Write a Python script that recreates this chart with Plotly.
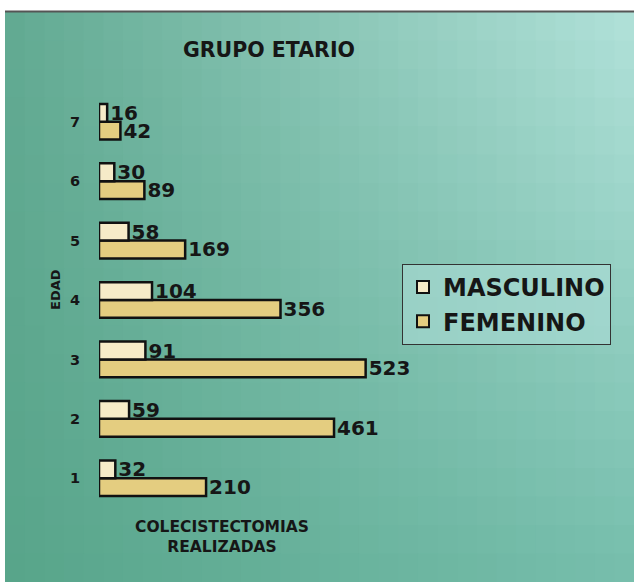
import plotly.graph_objects as go

categorias = ["1", "2", "3", "4", "5", "6", "7"]
masculino = [32, 59, 91, 104, 58, 30, 16]
femenino = [210, 461, 523, 356, 169, 89, 42]

W, H = 634, 582
L, R, T, B = 99, 224, 92, 74
FONT = "DejaVu Sans"
INK = "#161616"

pw = W - L - R
ph = H - T - B
def px(x):
    return (x - L) / pw
def py(y):
    return 1 - (y - T) / ph

fig = go.Figure()
fig.add_trace(go.Bar(
    y=categorias, x=femenino, orientation="h", name="FEMENINO",
    marker=dict(color="#e4cd80", line=dict(color="#111", width=2.5)),
    text=femenino, textposition="outside", cliponaxis=False, constraintext="none",
    textfont=dict(family=FONT, size=20, color=INK, weight="bold"),
    legendrank=2,
))
fig.add_trace(go.Bar(
    y=categorias, x=masculino, orientation="h", name="MASCULINO",
    marker=dict(color="#f6ebc8", line=dict(color="#111", width=2.5)),
    text=masculino, textposition="outside", cliponaxis=False, constraintext="none",
    textfont=dict(family=FONT, size=20, color=INK, weight="bold"),
    legendrank=1,
))

# background gradient (styling only): bilinear between four corner colours
TL = (98, 170, 146)
TR = (178, 226, 218)
BL = (88, 165, 138)
BR = (118, 190, 172)
X0, Y0 = 5, 12
nx, ny = 32, 20
shapes = []
for j in range(ny):
    for i in range(nx):
        u = (i + 0.5) / nx
        v = (j + 0.5) / ny
        col = tuple(int(TL[k] * (1 - u) * (1 - v) + TR[k] * u * (1 - v)
                        + BL[k] * (1 - u) * v + BR[k] * u * v) for k in range(3))
        xa = X0 + i * (W - X0) / nx
        xb = X0 + (i + 1) * (W - X0) / nx + 1
        ya = Y0 + j * (H - Y0) / ny
        yb = Y0 + (j + 1) * (H - Y0) / ny + 1
        shapes.append(dict(
            type="rect", xref="paper", yref="paper", layer="below",
            x0=px(xa), x1=px(xb), y0=py(yb), y1=py(ya),
            fillcolor="rgb(%d,%d,%d)" % col, line=dict(width=0),
        ))
shapes.append(dict(type="line", xref="paper", yref="paper", layer="below",
                   x0=px(X0), x1=px(W), y0=py(11.5), y1=py(11.5),
                   line=dict(color="#555", width=2)))

annotations = [
    dict(text="<b>GRUPO ETARIO</b>", x=px(269), y=py(50), xref="paper", yref="paper",
         xanchor="center", yanchor="middle",
         showarrow=False, font=dict(family=FONT, size=20.5, color=INK)),
    dict(text="<b>COLECISTECTOMIAS<br>REALIZADAS</b>", x=px(222), y=py(537), xref="paper", yref="paper",
         xanchor="center", yanchor="middle",
         showarrow=False, font=dict(family=FONT, size=15.5, color=INK),
         align="center"),
    dict(text="<b>EDAD</b>", x=px(55), y=py(290), xref="paper", yref="paper",
         xanchor="center", yanchor="middle",
         showarrow=False, textangle=-90, font=dict(family=FONT, size=13, color=INK)),
]

fig.update_layout(
    width=W, height=H,
    margin=dict(l=L, r=R, t=T, b=B),
    paper_bgcolor="white",
    plot_bgcolor="rgba(0,0,0,0)",
    barmode="group",
    bargap=0.4,
    bargroupgap=0.0,
    showlegend=True,
    legend=dict(
        x=px(402), y=py(264), xanchor="left", yanchor="top",
        xref="paper", yref="paper",
        bgcolor="rgba(175,222,216,0.55)", bordercolor="#333", borderwidth=1,
        font=dict(family=FONT, size=24, color=INK, weight="bold"),
        itemsizing="constant", tracegroupgap=0, itemwidth=30,
    ),
    xaxis=dict(range=[0, 610], visible=False),
    yaxis=dict(
        type="category", range=[-0.5, 6.5], showgrid=False, zeroline=False,
        showline=False, ticks="", ticklabelstandoff=18,
        tickfont=dict(family=FONT, size=14.5, color=INK, weight="bold"),
    ),
    shapes=shapes,
    annotations=annotations,
)

fig.write_html("out.html", post_script="document.body.style.margin='0px';",
               config={"displayModeBar": False})
